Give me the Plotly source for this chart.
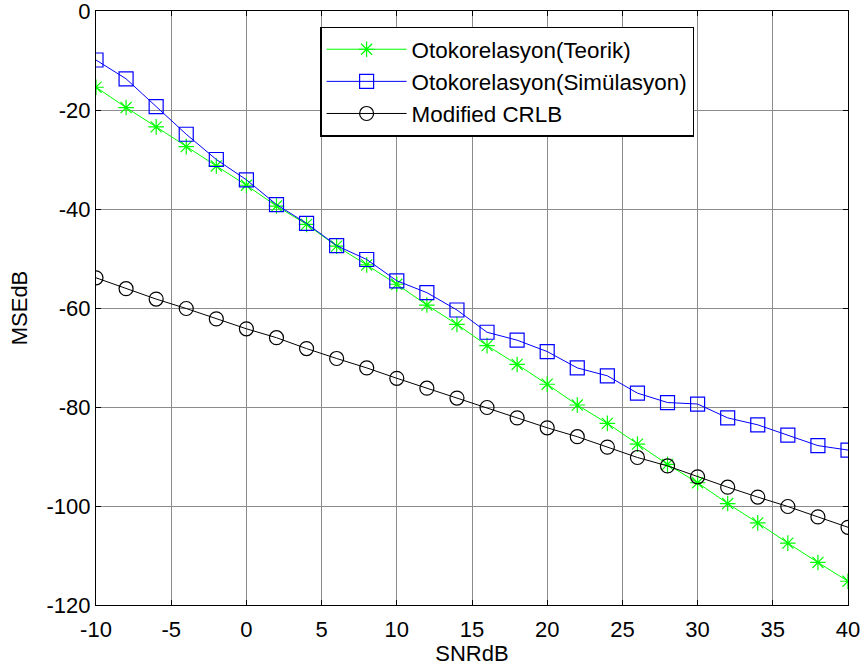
import plotly.graph_objects as go

snr = [-10, -8, -6, -4, -2, 0, 2, 4, 6, 8, 10, 12, 14, 16, 18, 20, 22, 24, 26, 28, 30, 32, 34, 36, 38, 40]

teorik = [-15.4, -19.5, -23.4, -27.4, -31.3, -35.2, -39.4, -43.1, -47.5, -51.3, -55.2, -59.4, -63.3,
          -67.6, -71.4, -75.4, -79.6, -83.3, -87.5, -91.6, -95.3, -99.5, -103.4, -107.5, -111.4, -115.2]

simulasyon = [-9.9, -13.7, -19.3, -24.9, -30.0, -34.1, -39.1, -42.9, -47.4, -50.2, -54.5, -56.9, -60.4,
              -64.9, -66.5, -68.8, -72.1, -73.7, -77.2, -79.1, -79.4, -82.2, -83.6, -85.7, -87.8, -88.7]

crlb = [-53.9, -56.1, -58.2, -60.1, -62.2, -64.2, -66.0, -68.2, -70.2, -72.1, -74.2, -76.2, -78.2,
        -80.1, -82.2, -84.2, -86.0, -88.1, -90.2, -91.9, -94.1, -96.2, -98.2, -100.1, -102.2, -104.3]

names = ["Otokorelasyon(Teorik)", "Otokorelasyon(Simülasyon)", "Modified CRLB"]
x_ticks = [-10, -5, 0, 5, 10, 15, 20, 25, 30, 35, 40]
y_ticks = [0, -20, -40, -60, -80, -100, -120]

FONT = "Liberation Sans, Arial, sans-serif"

fig = go.Figure()
fig.add_trace(go.Scatter(x=snr, y=teorik, name=names[0], mode="lines+markers",
                         line=dict(color="#00FF00", width=1),
                         marker=dict(symbol="asterisk-open", size=13, color="#00FF00",
                                     line=dict(color="#00FF00", width=1.2))))
fig.add_trace(go.Scatter(x=snr, y=simulasyon, name=names[1], mode="lines+markers",
                         line=dict(color="#0000FF", width=1),
                         marker=dict(symbol="square-open", size=14, color="#0000FF",
                                     line=dict(color="#0000FF", width=1.2))))
fig.add_trace(go.Scatter(x=snr, y=crlb, name=names[2], mode="lines+markers",
                         line=dict(color="#000000", width=1),
                         marker=dict(symbol="circle-open", size=14, color="#000000",
                                     line=dict(color="#000000", width=1.2))))

axis_common = dict(showline=True, linecolor="black", linewidth=1.2, mirror="all",
                   ticks="inside", ticklen=5, tickcolor="black",
                   showgrid=True, gridcolor="#8c8c8c", gridwidth=1,
                   zeroline=False, automargin=False, ticklabeloverflow="allow",
                   tickfont=dict(family=FONT, size=22, color="black"))

fig.update_xaxes(range=[-10, 40], tickvals=x_ticks, ticktext=[str(v) for v in x_ticks],
                 ticklabelstandoff=4,
                 title=dict(text="SNRdB", font=dict(family=FONT, size=22, color="black"), standoff=4),
                 **axis_common)
fig.update_yaxes(range=[-120, 0], tickvals=y_ticks, ticktext=[str(v) for v in y_ticks],
                 title=dict(text="MSEdB", font=dict(family=FONT, size=22, color="black"), standoff=12),
                 **axis_common)

fig.update_layout(
    template="none",
    width=864, height=672, autosize=False,
    margin=dict(l=96, r=16, t=11, b=67, pad=0),
    paper_bgcolor="white", plot_bgcolor="white",
    font=dict(family=FONT, size=22, color="black"),
    showlegend=True,
    legend=dict(x=0.298, y=0.9736, xanchor="left", yanchor="top",
                bgcolor="white", bordercolor="black", borderwidth=1.5,
                font=dict(family=FONT, size=22.4, color="black"),
                itemwidth=80, tracegroupgap=0),
)

fig.write_html(
    "out.html",
    config={"responsive": False, "displayModeBar": False},
    post_script="document.body.style.margin='0';document.body.style.padding='0';"
                "document.body.style.overflow='hidden';",
)
